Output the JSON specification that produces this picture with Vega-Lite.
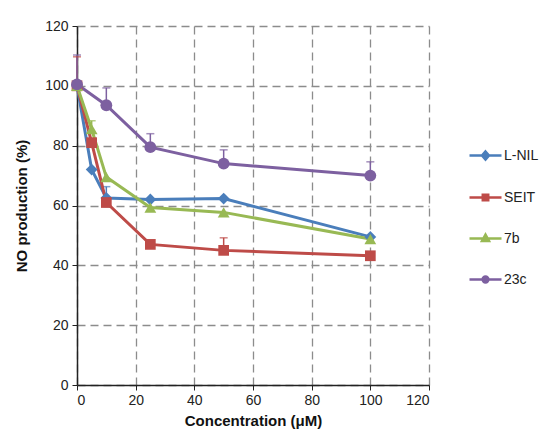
{
  "$schema": "https://vega.github.io/schema/vega-lite/v6.json",
  "width": 352,
  "height": 359,
  "autosize": "none",
  "padding": {"left": 77, "top": 26, "right": 113, "bottom": 50},
  "background": "white",
  "config": {
    "view": {"stroke": null},
    "font": "Liberation Sans",
    "axis": {
      "labelFont": "Liberation Sans",
      "labelFontSize": 14,
      "labelColor": "#222",
      "titleFont": "Liberation Sans",
      "titleFontSize": 15,
      "titleFontWeight": "bold",
      "titleColor": "#111",
      "domainColor": "#222",
      "domainWidth": 1.5,
      "tickColor": "#222",
      "tickSize": 5,
      "gridColor": "#8c8c8c",
      "gridDash": [8, 5],
      "gridWidth": 1.3
    }
  },
  "data": {
    "values": [
      {"series": "L-NIL", "x": 0, "y": 100, "hi": null},
      {"series": "L-NIL", "x": 5, "y": 72, "hi": null},
      {"series": "L-NIL", "x": 10, "y": 62.5, "hi": 66.3},
      {"series": "L-NIL", "x": 25, "y": 62, "hi": null},
      {"series": "L-NIL", "x": 50, "y": 62.3, "hi": null},
      {"series": "L-NIL", "x": 100, "y": 49.5, "hi": null},
      {"series": "SEIT", "x": 0, "y": 100, "hi": 109.7},
      {"series": "SEIT", "x": 5, "y": 81, "hi": null},
      {"series": "SEIT", "x": 10, "y": 61, "hi": null},
      {"series": "SEIT", "x": 25, "y": 47, "hi": null},
      {"series": "SEIT", "x": 50, "y": 45, "hi": 49.2},
      {"series": "SEIT", "x": 100, "y": 43.2, "hi": null},
      {"series": "7b", "x": 0, "y": 100, "hi": null},
      {"series": "7b", "x": 5, "y": 85.5, "hi": 88.3},
      {"series": "7b", "x": 10, "y": 69.5, "hi": null},
      {"series": "7b", "x": 25, "y": 59.3, "hi": null},
      {"series": "7b", "x": 50, "y": 57.7, "hi": null},
      {"series": "7b", "x": 100, "y": 48.8, "hi": null},
      {"series": "23c", "x": 0, "y": 100.5, "hi": 110.3},
      {"series": "23c", "x": 10, "y": 93.5, "hi": 99.3},
      {"series": "23c", "x": 25, "y": 79.5, "hi": 84},
      {"series": "23c", "x": 50, "y": 74, "hi": 78.6},
      {"series": "23c", "x": 100, "y": 70, "hi": 74.6}
    ]
  },
  "layer": [
    {
      "transform": [{"filter": "datum.hi != null"}],
      "mark": {"type": "rule", "strokeWidth": 1.5},
      "encoding": {
        "x": {"field": "x", "type": "quantitative"},
        "y": {"field": "y", "type": "quantitative"},
        "y2": {"field": "hi"},
        "color": {"field": "series", "type": "nominal"}
      }
    },
    {
      "transform": [{"filter": "datum.hi != null"}],
      "mark": {"type": "tick", "orient": "horizontal", "thickness": 1.5, "size": 8},
      "encoding": {
        "x": {"field": "x", "type": "quantitative"},
        "y": {"field": "hi", "type": "quantitative"},
        "color": {"field": "series", "type": "nominal"}
      }
    },
    {
      "mark": {"type": "line", "strokeWidth": 3},
      "encoding": {
        "x": {
          "field": "x", "type": "quantitative",
          "scale": {"domain": [0, 120], "nice": false},
          "axis": {"values": [0, 20, 40, 60, 80, 100, 120], "title": "Concentration (μM)", "titlePadding": 6, "labelPadding": 3, "grid": true}
        },
        "y": {
          "field": "y", "type": "quantitative",
          "scale": {"domain": [0, 120], "nice": false},
          "axis": {"values": [0, 20, 40, 60, 80, 100, 120], "title": "NO production (%)", "titlePadding": 15, "labelPadding": 4, "grid": true}
        },
        "color": {
          "field": "series", "type": "nominal",
          "scale": {"domain": ["L-NIL", "SEIT", "7b", "23c"], "range": ["#4a7ebb", "#be4b48", "#98b954", "#7d60a0"]},
          "legend": {
            "orient": "none",
            "legendX": 391,
            "legendY": 112,
            "title": null,
            "symbolSize": 1024,
            "symbolStrokeWidth": 2.5,
            "labelFont": "Liberation Sans",
            "labelFontSize": 14,
            "labelColor": "#222",
            "labelOffset": 1,
            "rowPadding": 15,
            "encode": {
              "symbols": {
                "update": {
                  "shape": {"signal": "datum.value === 'L-NIL' ? 'M-1,0H1M0,-0.25L0.22,0L0,0.25L-0.22,0Z' : datum.value === 'SEIT' ? 'M-1,0H1M-0.17,-0.17H0.17V0.17H-0.17Z' : datum.value === '7b' ? 'M-1,0H1M0,-0.24L0.22,0.16L-0.22,0.16Z' : 'M-1,0H1M-0.18,0A0.18,0.18,0,1,0,0.18,0A0.18,0.18,0,1,0,-0.18,0Z'"},
                  "fill": {"scale": "color", "field": "value"},
                  "stroke": {"scale": "color", "field": "value"},
                  "opacity": {"value": 1}
                }
              }
            }
          }
        }
      }
    },
    {
      "transform": [{"filter": "datum.series === 'L-NIL'"}],
      "mark": {"type": "point", "filled": true, "opacity": 1, "size": 140, "shape": "diamond"},
      "encoding": {
        "x": {"field": "x", "type": "quantitative"},
        "y": {"field": "y", "type": "quantitative"},
        "color": {"field": "series", "type": "nominal"}
      }
    },
    {
      "transform": [{"filter": "datum.series === 'SEIT'"}],
      "mark": {"type": "point", "filled": true, "opacity": 1, "size": 115, "shape": "square"},
      "encoding": {
        "x": {"field": "x", "type": "quantitative"},
        "y": {"field": "y", "type": "quantitative"},
        "color": {"field": "series", "type": "nominal"}
      }
    },
    {
      "transform": [{"filter": "datum.series === '7b'"}],
      "mark": {"type": "point", "filled": true, "opacity": 1, "size": 140, "shape": "triangle-up"},
      "encoding": {
        "x": {"field": "x", "type": "quantitative"},
        "y": {"field": "y", "type": "quantitative"},
        "color": {"field": "series", "type": "nominal"}
      }
    },
    {
      "transform": [{"filter": "datum.series === '23c'"}],
      "mark": {"type": "point", "filled": true, "opacity": 1, "size": 140, "shape": "circle"},
      "encoding": {
        "x": {"field": "x", "type": "quantitative"},
        "y": {"field": "y", "type": "quantitative"},
        "color": {"field": "series", "type": "nominal"}
      }
    }
  ]
}
